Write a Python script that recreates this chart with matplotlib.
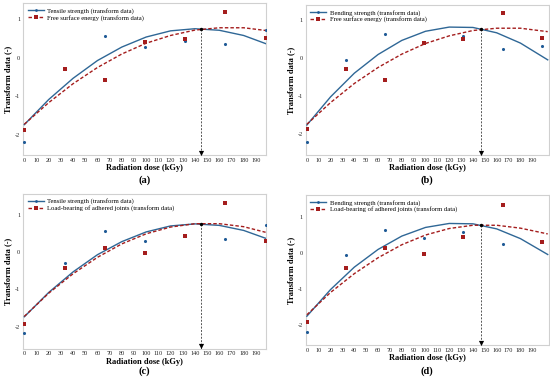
import matplotlib
matplotlib.use("Agg")
import matplotlib.pyplot as plt
from matplotlib.lines import Line2D

plt.rcParams['font.family'] = ['Liberation Serif', 'DejaVu Serif']
plt.rcParams['axes.unicode_minus'] = False

# measured points (transform data)
dose = [0, 33, 66, 99, 132, 165, 198]
tensile = [-2.17, -0.29, 0.57, 0.29, 0.43, 0.35, 0.72]
bending = [-2.21, -0.06, 0.62, 0.42, 0.57, 0.23, 0.32]
surface = [-1.87, -0.28, -0.57, 0.40, 0.50, 1.19, 0.52]
loadbear = [-1.92, -0.42, 0.12, -0.03, 0.44, 1.31, 0.31]

# fitted curves
fit_x_ac = [0, 20, 40, 60, 80, 100, 120, 140, 160, 180, 198]
fit_x_bd = [0, 20, 40, 60, 80, 100, 120, 140, 160, 180, 203]
tensile_fit = [-1.73, -1.08, -0.53, -0.07, 0.28, 0.54, 0.70, 0.755, 0.715, 0.58, 0.37]
bending_fit = [-1.76, -1.02, -0.40, 0.09, 0.46, 0.70, 0.81, 0.80, 0.66, 0.39, -0.05]
surface_fit_a = [-1.72, -1.16, -0.67, -0.25, 0.10, 0.38, 0.58, 0.72, 0.78, 0.78, 0.71]
surface_fit_b = [-1.74, -1.17, -0.67, -0.25, 0.10, 0.38, 0.58, 0.72, 0.78, 0.78, 0.69]
load_fit_c = [-1.72, -1.10, -0.58, -0.14, 0.22, 0.49, 0.67, 0.76, 0.76, 0.68, 0.53]
load_fit_d = [-1.72, -1.10, -0.58, -0.14, 0.22, 0.49, 0.67, 0.76, 0.76, 0.68, 0.52]

optimum = [145, 147, 145, 147]  # kGy, crossing point of the fits
optimum_y = [0.75, 0.75, 0.76, 0.76]

blue = '#2f6796'
blue_pt = '#1f5a96'
red = '#a41d1d'

panels = [
    dict(pos=[0.042, 0.595, 0.442, 0.397], lab='(a)', laby=-0.165, n1='Tensile strength (transform data)',
         y1=tensile, f1=tensile_fit, x1=fit_x_ac, n2='Free surface energy (transform data)', y2=surface,
         f2=surface_fit_a, x2=fit_x_ac, xlim=(-1, 198.5), ylim=(-2.52, 1.42)),
    dict(pos=[0.556, 0.595, 0.442, 0.392], lab='(b)', laby=-0.165, n1='Bending strength (transform data)',
         y1=bending, f1=bending_fit, x1=fit_x_bd, n2='Free surface energy (transform data)', y2=surface,
         f2=surface_fit_b, x2=fit_x_bd, xlim=(-0.9, 204), ylim=(-2.55, 1.39)),
    dict(pos=[0.042, 0.090, 0.442, 0.404], lab='(c)', laby=-0.148, n1='Tensile strength (transform data)',
         y1=tensile, f1=tensile_fit, x1=fit_x_ac, n2='Load-bearing of adhered joints (transform data)',
         y2=loadbear, f2=load_fit_c, x2=fit_x_ac, xlim=(-1, 198.5), ylim=(-2.58, 1.56)),
    dict(pos=[0.556, 0.099, 0.442, 0.392], lab='(d)', laby=-0.175, n1='Bending strength (transform data)',
         y1=bending, f1=bending_fit, x1=fit_x_bd, n2='Load-bearing of adhered joints (transform data)',
         y2=loadbear, f2=load_fit_d, x2=fit_x_bd, xlim=(-0.9, 204), ylim=(-2.56, 1.60)),
]

fig = plt.figure(figsize=(5.5, 3.83), dpi=100)

for i, p in enumerate(panels):
    ax = fig.add_axes(p['pos'])
    ax.plot(p['x1'], p['f1'], color=blue, lw=1.0, zorder=3)
    ax.plot(p['x2'], p['f2'], color=red, lw=1.0, ls=(0, (2.5, 1.5)), zorder=3)
    ax.scatter(dose, p['y1'], s=5, marker='o', color=blue_pt, zorder=4, linewidths=0)
    ax.scatter(dose, p['y2'], s=10, marker='s', color=red, zorder=4, linewidths=0)

    # optimum dose marker
    ax.plot([optimum[i], optimum[i]], [optimum_y[i], p['ylim'][0]], color='#555555', lw=0.7,
            ls=(0, (2, 1.5)), zorder=2)
    ax.scatter([optimum[i]], [optimum_y[i]], s=6, color='black', zorder=5, linewidths=0)
    ax.scatter([optimum[i]], [p['ylim'][0] + 0.06], s=14, marker='v', color='black', zorder=5,
               linewidths=0, clip_on=False)

    ax.set_xlim(p['xlim'])
    ax.set_ylim(p['ylim'])
    ax.set_xticks(range(0, 200, 10))
    ax.set_yticks([-2, -1, 0, 1])
    ax.tick_params(length=0, labelsize=4.5, pad=2, colors='#222222')
    for s in ax.spines.values():
        s.set_color('#d0d0d0')
        s.set_linewidth(0.8)
    ax.set_xlabel('Radiation dose (kGy)', fontsize=6, fontweight='bold', labelpad=1)
    ax.set_ylabel('Transform data (-)', fontsize=6, fontweight='bold', labelpad=2)

    handles = [Line2D([0], [0], color=blue, lw=1.0, marker='o', ms=2, markerfacecolor=blue_pt,
                      markeredgewidth=0),
               Line2D([0], [0], color=red, lw=1.0, ls=(0, (2.5, 1.5)), marker='s', ms=3,
                      markeredgewidth=0)]
    ax.legend(handles, [p['n1'], p['n2']], loc='upper left', fontsize=4.8, frameon=False,
              handlelength=2.4, handletextpad=0.5, labelspacing=0.12, borderaxespad=0.3,
              bbox_to_anchor=(0.0, 1.0))

    ax.text(0.5, p['laby'], p['lab'], transform=ax.transAxes, ha='center', va='center',
            fontsize=7.5, fontweight='bold')

fig.savefig('out.png', dpi=100, facecolor='white')
